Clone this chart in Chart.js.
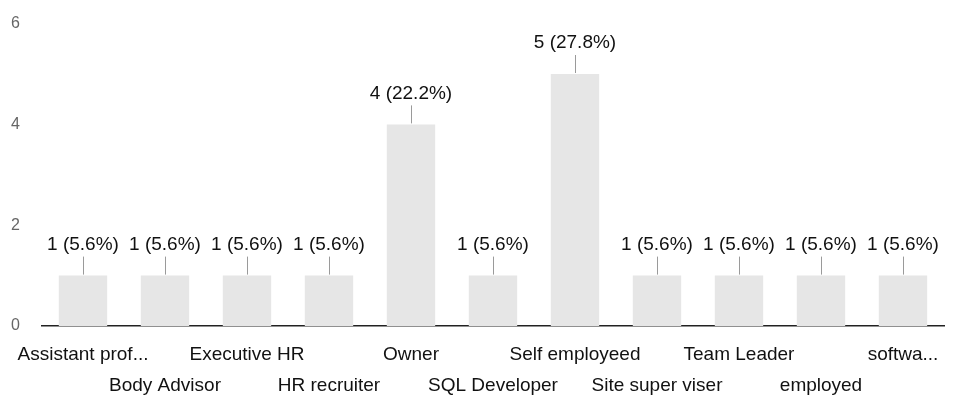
<!DOCTYPE html>
<html>
<head>
<meta charset="utf-8">
<script src="https://cdn.jsdelivr.net/npm/chart.js@4"></script>
<style>
    html, body { margin: 0; padding: 0; background: #fff; }
    #wrap { width: 954px; height: 400px; position: relative; }
</style>
</head>
<body>
<div id="wrap"><canvas id="chart"></canvas></div>
<script>
const categories = [
    'Assistant prof...', 'Body Advisor', 'Executive HR', 'HR recruiter', 'Owner',
    'SQL Developer', 'Self employeed', 'Site super viser', 'Team Leader', 'employed', 'softwa...'
];
const counts = [1, 1, 1, 1, 4, 1, 5, 1, 1, 1, 1];
const yTicks = [0, 2, 4, 6];

const total = counts.reduce((a, b) => a + b, 0);
const font = '"Liberation Sans", Arial, sans-serif';

// value + percentage above each bar, with a short leader line
const valueLabels = {
    id: 'valueLabels',
    afterDatasetsDraw(chart) {
        const ctx = chart.ctx;
        const meta = chart.getDatasetMeta(0);
        ctx.save();
        meta.data.forEach((bar, i) => {
            ctx.strokeStyle = '#9a9a9a';
            ctx.lineWidth = 1;
            ctx.beginPath();
            ctx.moveTo(bar.x + 0.5, bar.y - 1);
            ctx.lineTo(bar.x + 0.5, bar.y - 19);
            ctx.stroke();

            const pct = (counts[i] / total * 100).toFixed(1);
            ctx.fillStyle = '#111';
            ctx.font = '19px ' + font;
            ctx.textAlign = 'center';
            ctx.textBaseline = 'middle';
            ctx.fillText(`${counts[i]} (${pct}%)`, bar.x, bar.y - 31);
        });
        ctx.restore();
    }
};

new Chart(document.getElementById('chart'), {
    type: 'bar',
    data: {
        labels: categories,
        datasets: [{
            data: counts,
            backgroundColor: '#e6e6e6',
            borderWidth: 0,
            categoryPercentage: 1,
            barPercentage: 0.59
        }]
    },
    options: {
        responsive: true,
        maintainAspectRatio: false,
        animation: false,
        layout: {padding: {top: 0, right: 10, left: 0, bottom: 0}},
        plugins: {
            legend: {display: false},
            tooltip: {enabled: false}
        },
        scales: {
            x: {
                grid: {display: false},
                border: {display: true, color: '#222', width: 1.5},
                afterFit: scale => { scale.height = 74; },
                ticks: {
                    autoSkip: false,
                    maxRotation: 0,
                    minRotation: 0,
                    padding: 6,
                    color: '#111',
                    font: {family: font, size: 19, lineHeight: 1.6},
                    callback: function (value, index) {
                        const label = categories[index];
                        return index % 2 === 0 ? [label, ''] : ['', label];
                    }
                }
            },
            y: {
                min: 0,
                max: 6,
                grid: {display: false},
                border: {display: false},
                afterFit: scale => { scale.width = 42; },
                afterBuildTicks: scale => {
                    scale.ticks = yTicks.map(v => ({value: v}));
                },
                ticks: {
                    padding: 14,
                    color: '#666',
                    font: {family: font, size: 16}
                }
            }
        }
    },
    plugins: [valueLabels]
});
</script>
</body>
</html>
